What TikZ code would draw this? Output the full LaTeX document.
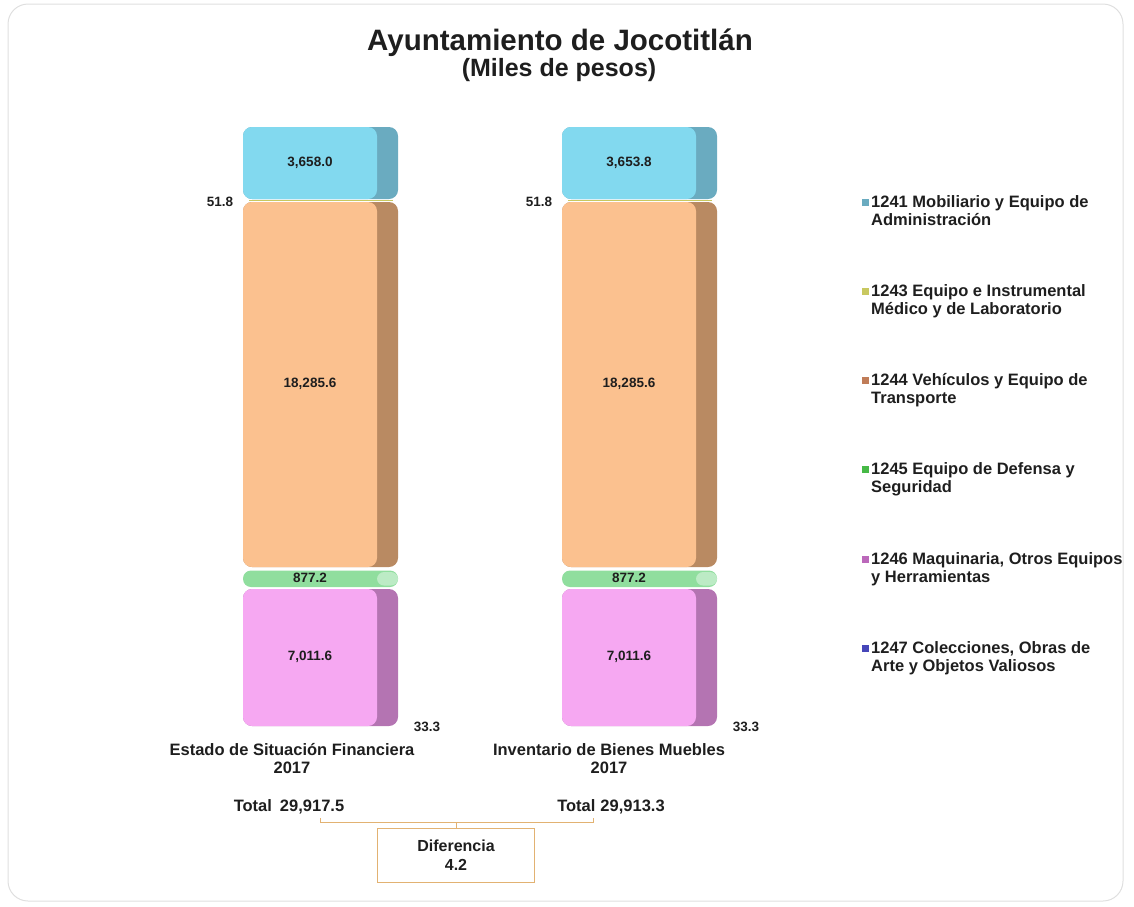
\documentclass[tikz,border=0pt]{standalone}
\usepackage{fontspec}
\setmainfont{Liberation Sans}
\usetikzlibrary{positioning}

\definecolor{cyanface}{HTML}{82D9EF}
\definecolor{cyanside}{HTML}{6AABC0}
\definecolor{naranjaface}{HTML}{FBC18F}
\definecolor{naranjaside}{HTML}{B98A62}
\definecolor{verdeface}{HTML}{90DE9E}
\definecolor{rosaface}{HTML}{F6A8F2}
\definecolor{rosaside}{HTML}{B474B2}
\definecolor{oliva}{HTML}{C8C860}
\definecolor{bronce}{HTML}{E2B272}
\definecolor{texto}{HTML}{1E1E1E}

% bloque de barra: x, y arriba, y abajo, cara, lado
\newcommand\barblock[5]{%
  \fill[#5, rounded corners=9pt] (#1,#2) rectangle ({#1+155},#3);
  \fill[#4, rounded corners=9pt] (#1,#2) rectangle ({#1+134},#3);
}

\begin{document}
\begin{tikzpicture}[x=1pt,y=-1pt,
    valor/.style={font=\bfseries\fontsize{13.5}{15}\selectfont, text=texto},
    cat/.style={font=\bfseries\fontsize{16.5}{18}\selectfont, text=texto, align=center},
    leyenda/.style={font=\bfseries\fontsize{16.5}{18}\selectfont, text=texto,
                    align=left, anchor=north west, inner sep=0pt},
    marca/.style={minimum size=7pt, inner sep=0pt},
    difbox/.style={draw=bronce, thick, minimum width=157pt, minimum height=54pt,
                   font=\bfseries\fontsize{16}{19}\selectfont, text=texto, align=center}]
  \useasboundingbox (0,0) rectangle (1134,906);
  \draw[gray!25, line width=1pt, rounded corners=20pt] (8,4) rectangle (1123,901);

  % titulo
  \node[font=\bfseries\fontsize{29.5}{32}\selectfont, text=texto] (titulo) at (560,43) {Ayuntamiento de Jocotitlán};
  \node[font=\bfseries\fontsize{25}{28}\selectfont, text=texto] (subtitulo) at (559,70) {(Miles de pesos)};

  % barras
  \foreach \x in {243,562}{
    \barblock{\x}{127}{199}{cyanface}{cyanside}
    \barblock{\x}{202}{567}{naranjaface}{naranjaside}
    \draw[oliva, line width=1pt] ({\x+6},200.5) -- ({\x+150},200.5);
    \fill[verdeface, rounded corners=8pt] (\x,570.5) rectangle ({\x+155},587);
    \fill[verdeface!60!white, rounded corners=7pt] ({\x+134},572) rectangle ({\x+155},585.5);
    \barblock{\x}{589}{726}{rosaface}{rosaside}
  }

  \node[valor] (azulA)    at (310,163) {3,658.0};
  \node[valor] (naranjaA) at (310,384) {18,285.6};
  \node[valor] (verdeA)   at (310,578) {877.2};
  \node[valor] (rosaA)    at (310,657) {7,011.6};
  \node[valor] (amarA)    at (220,202) {51.8};
  \node[valor] (colA)     at (427,727) {33.3};

  \node[valor] (azulB)    at (629,163) {3,653.8};
  \node[valor] (naranjaB) at (629,384) {18,285.6};
  \node[valor] (verdeB)   at (629,578) {877.2};
  \node[valor] (rosaB)    at (629,657) {7,011.6};
  \node[valor] (amarB)    at (539,202) {51.8};
  \node[valor] (colB)     at (746,727) {33.3};

  % etiquetas
  \node[cat] (estado) at (292,759) {Estado de Situación Financiera\\2017};
  \node[cat] (inventario) at (609,759) {Inventario de Bienes Muebles\\2017};

  \node[cat] (totalA) at (289,807) {Total\hspace{8pt}29,917.5};
  \node[cat] (totalB) at (611,807) {Total\hspace{5pt}29,913.3};

  \node[difbox] (dif) at (456,855) {Diferencia\\4.2};
  \coordinate (bA) at (320,822);
  \coordinate (bB) at (593,822);
  \draw[bronce, thick] (bA) ++(0,-4) -- (bA) -- (bB) -- ++(0,-4);
  \draw[bronce, thick] (dif.north) -- ++(0,-6);

  % leyenda
  \foreach \y/\c/\t [count=\i] in {
      202/cyanside/{1241 Mobiliario y Equipo de\\Administración},
      291/oliva/{1243 Equipo e Instrumental\\Médico y de Laboratorio},
      380/naranjaside!90!red/{1244 Vehículos y Equipo de\\Transporte},
      469/green!45!gray/{1245 Equipo de Defensa y\\Seguridad},
      559/rosaside!90!magenta/{1246 Maquinaria, Otros Equipos\\y Herramientas},
      648/blue!45!gray/{1247 Colecciones, Obras de\\Arte y Objetos Valiosos}}{
    \node[marca, fill=\c] (m\i) at (865,\y) {};
    \node[leyenda] (l\i) at (871,{\y-6.5}) {\t};
  }
\end{tikzpicture}
\end{document}
